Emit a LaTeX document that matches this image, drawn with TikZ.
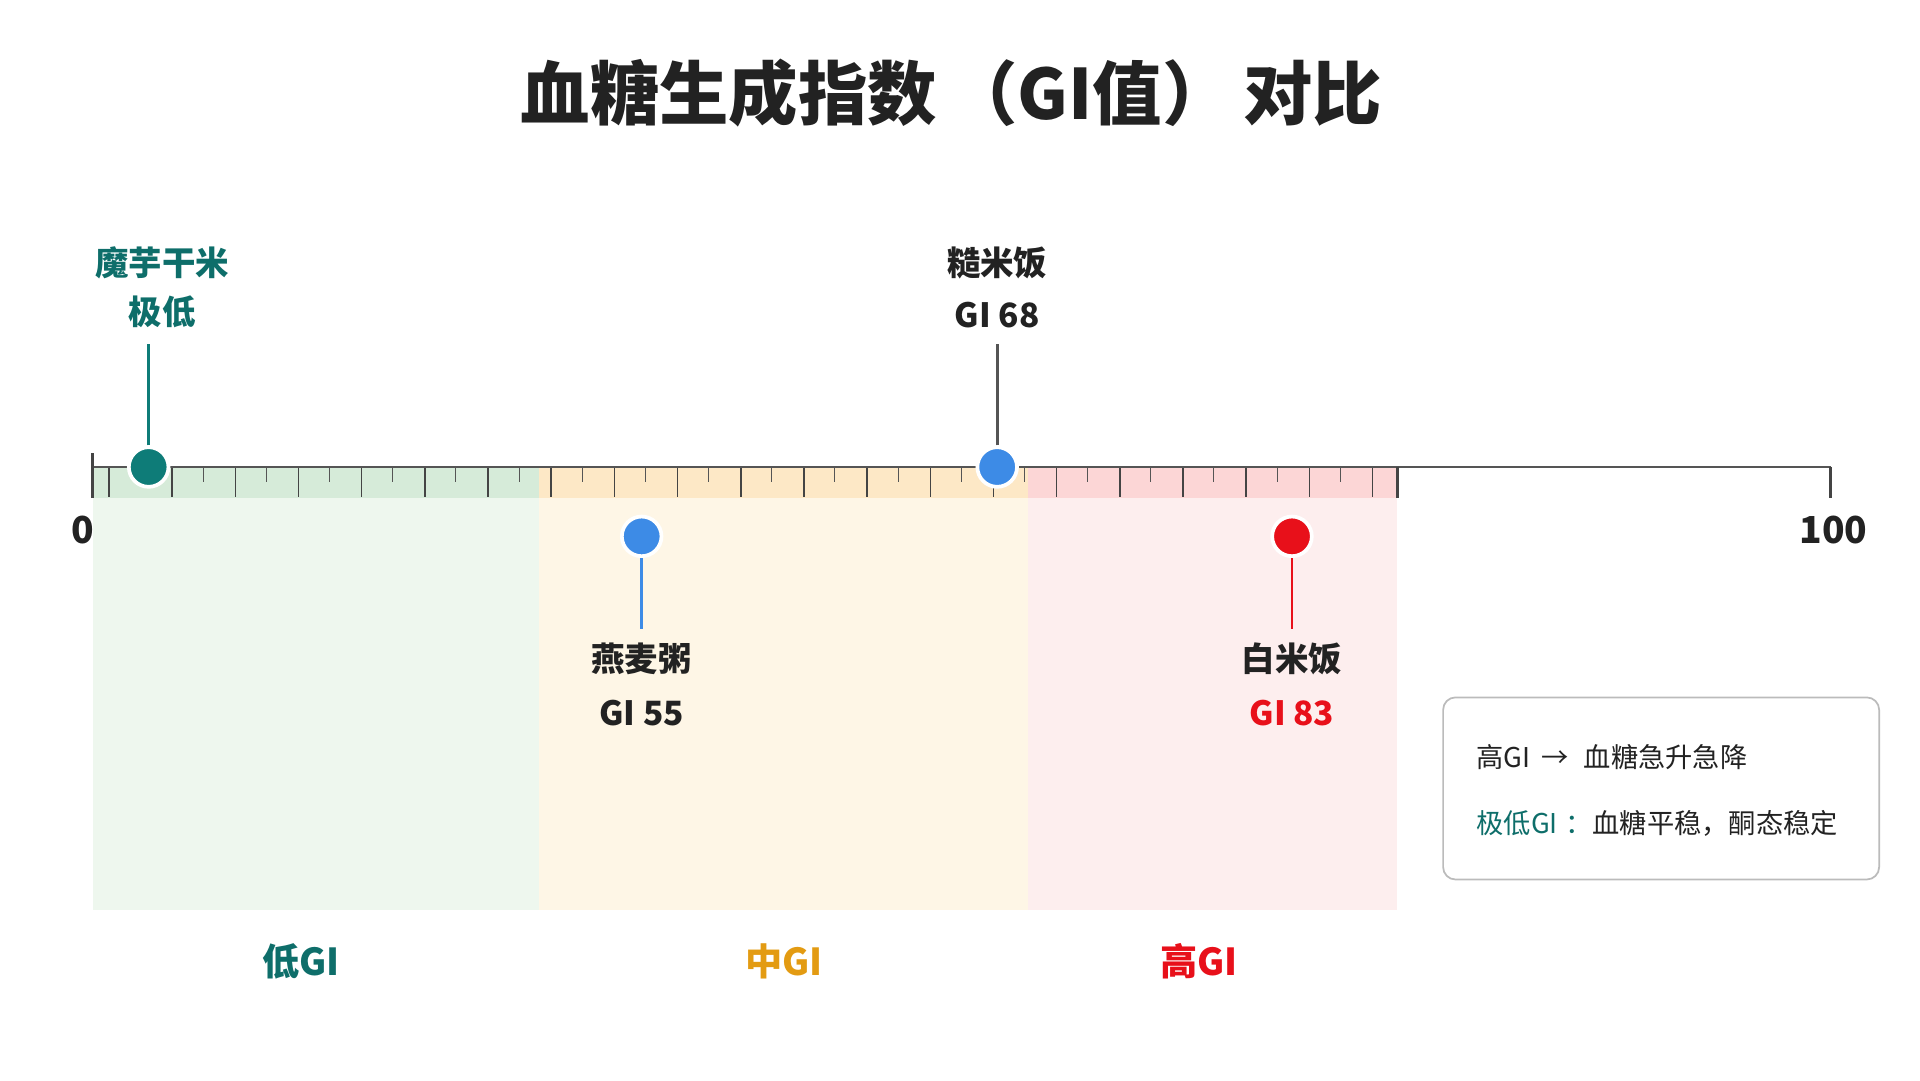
\documentclass[tikz,border=0pt]{standalone}
\usepackage{fontspec}
\setmainfont{Noto Sans CJK SC}
\definecolor{teal}{HTML}{0E7C78}
\definecolor{tealt}{HTML}{0E6E6A}
\definecolor{blu}{HTML}{3D8BE6}
\definecolor{rd}{HTML}{E8101A}
\definecolor{org}{HTML}{E39B12}
\definecolor{ink}{HTML}{222222}
\definecolor{gA}{HTML}{EEF7EE}
\definecolor{oA}{HTML}{FEF6E6}
\definecolor{rA}{HTML}{FDEEEE}
\definecolor{gB}{HTML}{D6EBD9}
\definecolor{oB}{HTML}{FDE8C6}
\definecolor{rB}{HTML}{FCD6D6}
\definecolor{axc}{HTML}{555555}
\definecolor{tk}{HTML}{444444}
\definecolor{bx}{HTML}{BBBBBB}
\begin{document}
\begin{tikzpicture}[x=0.5pt,y=-0.5pt,
  lab/.style={font=\fontsize{13.5}{16}\selectfont\bfseries,anchor=center,inner sep=0pt},
  dot/.style={circle,minimum size=16pt,inner sep=0pt,draw=white,line width=1.5pt},
  pin/.style={line width=1.2pt}]
\useasboundingbox (0,0) rectangle (1550,872);
\fill[white] (0,0) rectangle (1550,872);
% regions
\fill[gA] (75,402) rectangle (435,735);
\fill[oA] (435,402) rectangle (830,735);
\fill[rA] (830,402) rectangle (1128,735);
\fill[gB] (75,377) rectangle (435,402);
\fill[oB] (435,377) rectangle (830,402);
\fill[rB] (830,377) rectangle (1128,402);
% ticks
\foreach \i in {0,...,20} \draw[tk,line width=0.6pt] ({88+\i*51},377) -- ++(0,24);
\foreach \i in {0,...,19} \draw[axc,line width=0.4pt] ({113+\i*51},377) -- ++(0,12);
% axis
\draw[axc,line width=1.2pt] (75,377) -- (1478,377);
\draw[tk,line width=1.2pt] (75,366) -- (75,402);
\draw[tk,line width=1.2pt] (1478,377) -- (1478,402);
\draw[tk,line width=1.2pt] (1128,377) -- (1128,402);
\node[font=\fontsize{15}{18}\selectfont\bfseries,text=ink] (z) at (67,428) {0};
\node[font=\fontsize{15}{18}\selectfont\bfseries,text=ink] (h) at (1480,428) {100};
% title
\node[font=\fontsize{28}{32}\selectfont\bfseries,text=ink] (title) at (768,75) {血糖生成指数\,（GI值）\,对比};
% markers
\node[dot,fill=teal] (d1) at (120,377) {};
\coordinate (t1) at (120,278);
\draw[pin,teal] (d1) -- (t1);
\node[lab,text=tealt] (l1a) at (131,212) {魔芋干米};
\node[lab,text=tealt] (l1b) at (131,252) {极低};
\node[dot,fill=blu] (d2) at (805,377) {};
\coordinate (t2) at (805,278);
\draw[pin,axc] (d2) -- (t2);
\node[lab,text=ink] (l2a) at (805,212) {糙米饭};
\node[lab,text=ink] (l2b) at (805,254) {GI 68};
\node[dot,fill=blu] (d3) at (518,433) {};
\coordinate (t3) at (518,508);
\draw[pin,blu] (d3) -- (t3);
\node[lab,text=ink] (l3a) at (518,532) {燕麦粥};
\node[lab,text=ink] (l3b) at (518,576) {GI 55};
\node[dot,fill=rd] (d4) at (1043,433) {};
\coordinate (t4) at (1043,508);
\draw[pin,rd] (d4) -- (t4);
\node[lab,text=ink] (l4a) at (1043,532) {白米饭};
\node[lab,text=rd] (l4b) at (1043,576) {GI 83};
% zone labels
\node[font=\fontsize{15}{18}\selectfont\bfseries,text=tealt] (zl) at (243,776) {低GI};
\node[font=\fontsize{15}{18}\selectfont\bfseries,text=org] (zm) at (633,776) {中GI};
\node[font=\fontsize{15}{18}\selectfont\bfseries,text=rd] (zh) at (968,776) {高GI};
% legend
\draw[bx,line width=0.7pt,rounded corners=5pt,fill=white] (1165,563) rectangle (1517,710);
\node[anchor=west,font=\fontsize{11}{14}\selectfont,text=ink] (g1) at (1185,611) {高GI \,→\,\, 血糖急升急降};
\node[anchor=west,font=\fontsize{11}{14}\selectfont,text=ink] (g2) at (1185,665) {\textcolor{tealt}{极低GI}\;\textcolor{tealt}{：}血糖平稳，酮态稳定};
\end{tikzpicture}
\end{document}
